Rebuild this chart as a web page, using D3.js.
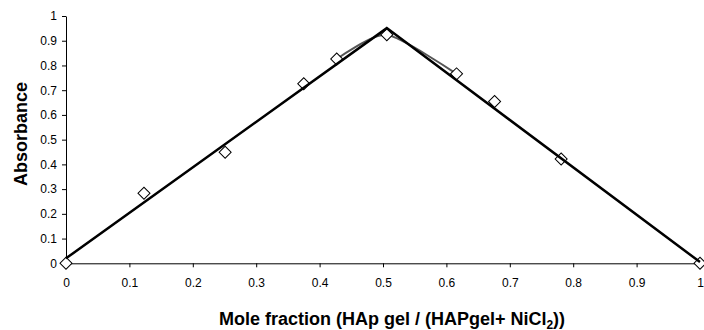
<!DOCTYPE html>
<html><head><meta charset="utf-8">
<script src="https://cdn.jsdelivr.net/npm/d3@7"></script>
<style>body{margin:0;background:#fff}svg{display:block}</style>
</head><body>
<svg id="c" width="704" height="330"></svg>
<script>
// measured data points (diamonds)
const moleFraction = [0, 0.123, 0.251, 0.375, 0.427, 0.506, 0.616, 0.676, 0.781, 1];
const absorbance   = [0, 0.283, 0.449, 0.726, 0.826, 0.924, 0.766, 0.654, 0.422, 0];
// smoothed curve through points near the maximum
const smoothX = [0.427, 0.506, 0.616];
const smoothY = [0.826, 0.924, 0.766];
// fitted straight lines (triangle)
const fitX = [0, 0.506, 1];
const fitY = [0.02, 0.951, 0.005];
const xTicks = [0, 0.1, 0.2, 0.3, 0.4, 0.5, 0.6, 0.7, 0.8, 0.9, 1];
const yTicks = [0, 0.1, 0.2, 0.3, 0.4, 0.5, 0.6, 0.7, 0.8, 0.9, 1];

const svg = d3.select("#c");
const font = "'Liberation Sans', Arial, sans-serif";
const x = d3.scaleLinear().domain([0, 1]).range([66, 700]);
const y = d3.scaleLinear().domain([0, 1]).range([263.3, 16]);

// axes
const gx = svg.append("g").attr("transform", `translate(0,${y(0)})`)
  .call(d3.axisBottom(x).tickValues(xTicks).tickSize(4).tickSizeOuter(0)
    .tickFormat(d => d3.format("~g")(d)));
gx.select(".domain").attr("stroke", "#000");
gx.selectAll(".tick line").attr("stroke", "#000");
gx.selectAll(".tick text").attr("y", 15).attr("dy", "0.71em")
  .attr("font-family", font).attr("font-size", 12).attr("fill", "#000");

const gy = svg.append("g").attr("transform", `translate(${x(0)},0)`)
  .call(d3.axisLeft(y).tickValues(yTicks).tickSize(4).tickSizeOuter(0).tickPadding(5)
    .tickFormat(d => d3.format("~g")(d)));
gy.select(".domain").attr("stroke", "#000");
gy.selectAll(".tick line").attr("stroke", "#000");
gy.selectAll(".tick text").attr("font-family", font).attr("font-size", 12).attr("fill", "#000");

// smoothed grey curve
const smoothPts = smoothX.map((v, i) => [v, smoothY[i]]);
svg.append("path").datum(smoothPts)
  .attr("d", d3.line().x(d => x(d[0])).y(d => y(d[1])).curve(d3.curveCardinal.tension(0.3)))
  .attr("fill", "none").attr("stroke", "#555").attr("stroke-width", 2);

// markers
const pts = moleFraction.map((v, i) => [v, absorbance[i]]);
svg.append("g").selectAll("path").data(pts).join("path")
  .attr("d", d3.symbol(d3.symbolSquare, 72))
  .attr("transform", d => `translate(${x(d[0])},${y(d[1])}) rotate(45)`)
  .attr("fill", "#fff").attr("stroke", "#000").attr("stroke-width", 1);

// fitted lines
const fitPts = fitX.map((v, i) => [v, fitY[i]]);
svg.append("path").datum(fitPts)
  .attr("d", d3.line().x(d => x(d[0])).y(d => y(d[1])))
  .attr("fill", "none").attr("stroke", "#000").attr("stroke-width", 2.5)
  .attr("stroke-linejoin", "miter");

// axis titles
svg.append("text").attr("transform", "translate(27,134) rotate(-90)")
  .attr("text-anchor", "middle").attr("font-family", font).attr("font-weight", "bold")
  .attr("font-size", 18).attr("fill", "#000").text("Absorbance");

const t = svg.append("text").attr("x", 392).attr("y", 324.5)
  .attr("text-anchor", "middle").attr("font-family", font).attr("font-weight", "bold")
  .attr("font-size", 18).attr("fill", "#000");
t.append("tspan").text("Mole fraction (HAp gel / (HAPgel+ NiCl");
t.append("tspan").attr("font-size", 12).attr("dy", 4).text("2");
t.append("tspan").attr("dy", -4).text("))");
</script>
</body></html>
